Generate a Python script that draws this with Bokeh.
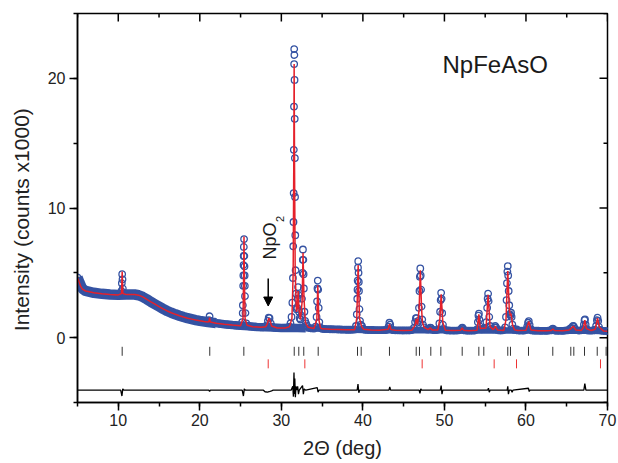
import math
from bokeh.plotting import figure
from bokeh.models import Range1d, SingleIntervalTicker, Label, Arrow, NormalHead
from bokeh.embed import file_html
from bokeh.resources import INLINE

# ---- data: 2-theta (deg), intensity (counts x1000) ----
observed = [
    (5.0, 4.65), (5.25, 4.25), (5.5, 3.88), (5.75, 3.7), (6.0, 3.6), (6.25, 3.56), (6.5, 3.52), (6.75, 3.49),
    (7.0, 3.46), (7.25, 3.44), (7.5, 3.42), (7.75, 3.4), (8.0, 3.38), (8.25, 3.37), (8.5, 3.35), (8.75, 3.34),
    (9.0, 3.33), (9.25, 3.32), (9.5, 3.31), (9.75, 3.3), (10.0, 3.3), (10.25, 3.31),
    (10.4, 3.6), (10.44, 4.2), (10.48, 4.9), (10.52, 4.5), (10.56, 3.8), (10.6, 3.4),
    (10.75, 3.32), (11.0, 3.32), (11.25, 3.33), (11.5, 3.33), (11.75, 3.34), (12.0, 3.33), (12.25, 3.31),
    (12.5, 3.27), (12.75, 3.22), (13.0, 3.14), (13.25, 3.05), (13.5, 2.96), (13.75, 2.86), (14.0, 2.76),
    (14.25, 2.67), (14.5, 2.58), (14.75, 2.49), (15.0, 2.4), (15.25, 2.31), (15.5, 2.22), (15.75, 2.14),
    (16.0, 2.06), (16.25, 1.99), (16.5, 1.92), (16.75, 1.86), (17.0, 1.8), (17.25, 1.74), (17.5, 1.69),
    (17.75, 1.64), (18.0, 1.59), (18.25, 1.54), (18.5, 1.5), (18.75, 1.46), (19.0, 1.43), (19.25, 1.39),
    (19.5, 1.36), (19.75, 1.33), (20.0, 1.3), (20.25, 1.27), (20.5, 1.24), (20.75, 1.22), (21.0, 1.2),
    (21.1, 1.35), (21.2, 1.65), (21.3, 1.3),
    (21.5, 1.16), (21.75, 1.14), (22.0, 1.12), (22.25, 1.1), (22.5, 1.08), (22.75, 1.06), (23.0, 1.04),
    (23.25, 1.02), (23.5, 1.0), (23.75, 0.98), (24.0, 0.97), (24.25, 0.95), (24.5, 0.94), (24.75, 0.93), (25.0, 0.92),
    (25.2, 1.2), (25.26, 1.9), (25.28, 2.5), (25.32, 4.0), (25.34, 4.8), (25.36, 5.6), (25.38, 6.3), (25.4, 7.0),
    (25.43, 7.6), (25.46, 6.3), (25.48, 5.5), (25.5, 4.8), (25.52, 4.0), (25.54, 3.2), (25.6, 1.9), (25.7, 1.1),
    (25.85, 0.9), (26.0, 0.88), (26.25, 0.87), (26.5, 0.85), (26.75, 0.84), (27.0, 0.82), (27.25, 0.81),
    (27.5, 0.8), (27.75, 0.8), (28.0, 0.81),
    (28.2, 0.95), (28.35, 1.3), (28.45, 1.55), (28.55, 1.5), (28.7, 1.1), (28.85, 0.85),
    (29.0, 0.78), (29.25, 0.76), (29.5, 0.75), (29.75, 0.75), (30.0, 0.74), (30.25, 0.74), (30.5, 0.74),
    (30.75, 0.77), (31.0, 0.85),
    (31.12, 1.1), (31.25, 1.6), (31.35, 2.7), (31.42, 4.6), (31.46, 7.05), (31.49, 8.92), (31.51, 11.15),
    (31.53, 14.49), (31.55, 17.82), (31.57, 21.1), (31.58, 22.26), (31.6, 21.8), (31.62, 19.88), (31.64, 16.88),
    (31.66, 13.85), (31.68, 10.85), (31.71, 7.9), (31.75, 5.2), (31.8, 3.4), (31.87, 2.2), (31.95, 2.3),
    (32.0, 3.0), (32.05, 3.9), (32.1, 3.3), (32.17, 2.0), (32.25, 1.5), (32.35, 1.4), (32.45, 1.7),
    (32.53, 3.0), (32.6, 5.0), (32.63, 6.0), (32.65, 6.8), (32.7, 6.0), (32.73, 4.9), (32.76, 3.8),
    (32.83, 2.0), (32.92, 1.3), (33.02, 1.1), (33.12, 0.95), (33.25, 0.82),
    (33.5, 0.74), (33.75, 0.71), (34.0, 0.7), (34.2, 0.85), (34.32, 1.6), (34.38, 2.8), (34.43, 3.8),
    (34.47, 4.4), (34.52, 3.7), (34.58, 2.3), (34.66, 1.2), (34.78, 0.8),
    (35.0, 0.68), (35.25, 0.67), (35.5, 0.66), (35.75, 0.66), (36.0, 0.65), (36.25, 0.65), (36.5, 0.64),
    (36.75, 0.64), (37.0, 0.63), (37.25, 0.63), (37.5, 0.62), (37.75, 0.62), (38.0, 0.61), (38.25, 0.61),
    (38.5, 0.61), (38.75, 0.61), (39.0, 0.63),
    (39.15, 0.9), (39.25, 1.8), (39.31, 3.0), (39.34, 3.7), (39.36, 4.4), (39.4, 5.4), (39.43, 5.9),
    (39.47, 5.0), (39.5, 4.3), (39.52, 3.6), (39.58, 2.2), (39.65, 1.3), (39.75, 1.0), (39.88, 0.9), (40.0, 0.7),
    (40.25, 0.62), (40.5, 0.6), (40.75, 0.6), (41.0, 0.59), (41.25, 0.59), (41.5, 0.58), (41.75, 0.58),
    (42.0, 0.58), (42.25, 0.58), (42.5, 0.58), (42.75, 0.59), (43.0, 0.62),
    (43.15, 0.85), (43.25, 1.15), (43.35, 1.0), (43.5, 0.65),
    (43.75, 0.58), (44.0, 0.57), (44.25, 0.57), (44.5, 0.57), (44.75, 0.56), (45.0, 0.56), (45.25, 0.56),
    (45.5, 0.56), (45.75, 0.57), (46.0, 0.58), (46.25, 0.75),
    (46.4, 1.2), (46.5, 1.5), (46.6, 1.5), (46.7, 1.15), (46.8, 1.3), (46.88, 2.3), (46.94, 3.6),
    (46.99, 4.7), (47.04, 5.34), (47.09, 4.8), (47.14, 3.7), (47.2, 2.4), (47.28, 1.4), (47.38, 1.0), (47.5, 0.8),
    (47.75, 0.65), (48.0, 0.63), (48.15, 0.7), (48.25, 0.78), (48.35, 0.76), (48.5, 0.62), (48.75, 0.58),
    (49.0, 0.58), (49.25, 0.62),
    (49.38, 1.1), (49.47, 2.0), (49.54, 2.9), (49.6, 3.46), (49.66, 3.0), (49.73, 1.9), (49.82, 1.0), (49.95, 0.65),
    (50.25, 0.57), (50.5, 0.56), (50.75, 0.55), (51.0, 0.55), (51.25, 0.55), (51.5, 0.55), (51.75, 0.56),
    (52.0, 0.6), (52.12, 0.72), (52.2, 0.77), (52.3, 0.65), (52.5, 0.56), (52.75, 0.55), (53.0, 0.54),
    (53.25, 0.54), (53.5, 0.54), (53.75, 0.55), (54.0, 0.64),
    (54.1, 1.2), (54.17, 1.7), (54.23, 1.85), (54.3, 1.4), (54.4, 0.85), (54.55, 0.65), (54.7, 0.68),
    (54.85, 0.72), (55.0, 0.75),
    (55.15, 1.2), (55.24, 2.3), (55.3, 3.0), (55.36, 3.39), (55.42, 2.8), (55.5, 1.6), (55.6, 0.9),
    (55.75, 0.67), (56.0, 0.64), (56.15, 0.8), (56.25, 0.9), (56.35, 0.78), (56.5, 0.6),
    (56.75, 0.56), (57.0, 0.56), (57.25, 0.58), (57.45, 0.8), (57.55, 1.6), (57.62, 2.9), (57.67, 4.2),
    (57.72, 5.1), (57.77, 5.52), (57.82, 4.8), (57.88, 3.6), (57.95, 2.5), (58.03, 1.8), (58.1, 1.7),
    (58.17, 1.92), (58.24, 1.6), (58.33, 1.0), (58.45, 0.7),
    (58.6, 0.6), (58.8, 0.62), (58.9, 0.63), (59.0, 0.56), (59.25, 0.55), (59.5, 0.55), (59.75, 0.55),
    (60.0, 0.6), (60.15, 0.85), (60.25, 1.15), (60.35, 1.28), (60.45, 1.0), (60.6, 0.65),
    (60.75, 0.56), (61.0, 0.54), (61.25, 0.54), (61.5, 0.54), (61.75, 0.53), (62.0, 0.53), (62.25, 0.53),
    (62.5, 0.53), (62.75, 0.54), (63.0, 0.56), (63.2, 0.64), (63.3, 0.69), (63.42, 0.6), (63.6, 0.55),
    (63.75, 0.54), (64.0, 0.53), (64.25, 0.53), (64.5, 0.53), (64.75, 0.54), (65.0, 0.56), (65.25, 0.6),
    (65.45, 0.72), (65.6, 0.75), (65.75, 0.88), (65.85, 0.9), (66.0, 0.7), (66.2, 0.58), (66.5, 0.55),
    (66.75, 0.56), (67.0, 0.65),
    (67.1, 1.0), (67.18, 1.35), (67.24, 1.41), (67.32, 1.0), (67.45, 0.65), (67.6, 0.56), (67.75, 0.55),
    (68.0, 0.55), (68.25, 0.56), (68.45, 0.62), (68.6, 0.9), (68.7, 1.35), (68.78, 1.54), (68.86, 1.3),
    (68.95, 0.85), (69.1, 0.6), (69.25, 0.55), (69.5, 0.53), (69.75, 0.52), (70.0, 0.5),
]

# refined background level (the centre of the noisy observed band), in three stretches
background_low = [
    (5.0, 4.65), (5.25, 4.25), (5.5, 3.88), (5.75, 3.7), (6.0, 3.6), (7.0, 3.46), (8.0, 3.38), (9.0, 3.33),
    (10.0, 3.3), (11.0, 3.32), (12.0, 3.33), (12.5, 3.27), (13.0, 3.14), (13.5, 2.96), (14.0, 2.76),
    (14.5, 2.58), (15.0, 2.4), (15.5, 2.22), (16.0, 2.06), (16.5, 1.92), (17.0, 1.8), (17.5, 1.69),
    (18.0, 1.59), (18.5, 1.5), (19.0, 1.43), (19.5, 1.36), (20.0, 1.3), (21.0, 1.2), (22.0, 1.12),
]
background_mid = [
    (22.0, 1.12), (23.0, 1.04), (24.0, 0.97), (25.0, 0.92), (26.0, 0.88), (27.0, 0.82), (28.0, 0.8),
    (29.0, 0.78), (30.0, 0.74), (31.0, 0.76), (32.0, 0.74), (33.0, 0.72),
]
background_high = [
    (33.0, 0.72), (34.0, 0.7), (35.0, 0.68), (36.0, 0.65), (37.0, 0.63), (38.0, 0.61), (39.0, 0.61),
    (40.0, 0.6), (42.0, 0.58), (44.0, 0.57), (46.0, 0.57), (48.0, 0.6), (50.0, 0.57), (52.0, 0.56),
    (54.0, 0.55), (56.0, 0.56), (58.0, 0.56), (60.0, 0.55), (62.0, 0.53), (64.0, 0.53), (66.0, 0.55),
    (68.0, 0.54), (70.0, 0.5),
]

calculated = [
    (5.0, 4.6), (5.2, 4.3), (5.4, 3.95), (5.6, 3.75), (6.0, 3.6), (7.0, 3.46), (8.0, 3.38), (9.0, 3.33),
    (10.0, 3.3), (10.4, 3.4), (10.48, 5.1), (10.56, 3.4), (11.0, 3.32), (12.0, 3.33), (12.5, 3.28),
    (13.0, 3.15), (13.5, 2.96), (14.0, 2.76), (14.5, 2.58), (15.0, 2.4), (15.5, 2.22), (16.0, 2.06),
    (16.5, 1.92), (17.0, 1.8), (17.5, 1.69), (18.0, 1.59), (18.5, 1.5), (19.0, 1.43), (19.5, 1.36),
    (20.0, 1.3), (20.5, 1.24), (21.0, 1.2), (21.12, 1.25), (21.2, 1.55), (21.28, 1.2), (22.0, 1.12),
    (23.0, 1.04), (24.0, 0.97), (25.0, 0.92), (25.3, 1.5), (25.38, 5.0), (25.42, 7.8), (25.46, 5.0),
    (25.55, 1.5), (25.8, 0.95), (26.5, 0.85), (27.5, 0.8), (28.1, 0.85), (28.3, 1.1), (28.45, 1.5),
    (28.6, 1.35), (28.8, 0.9), (29.5, 0.75), (30.5, 0.74), (31.0, 0.85), (31.3, 1.5), (31.45, 5.0),
    (31.52, 13.0), (31.57, 21.1), (31.62, 13.0), (31.7, 5.0), (31.85, 2.0), (31.98, 2.4), (32.06, 3.6),
    (32.15, 2.2), (32.35, 1.4), (32.55, 2.8), (32.66, 6.55), (32.78, 3.0), (32.95, 1.2), (33.05, 1.05),
    (33.3, 0.8), (34.0, 0.7), (34.35, 1.4), (34.47, 4.05), (34.6, 1.4), (34.8, 0.75), (35.0, 0.68),
    (36.0, 0.65), (37.0, 0.63), (38.0, 0.61), (39.0, 0.62), (39.25, 1.5), (39.42, 5.6), (39.58, 1.5),
    (39.85, 0.85), (40.1, 0.65), (41.0, 0.59), (42.0, 0.58), (43.1, 0.65), (43.25, 1.05), (43.45, 0.62),
    (44.0, 0.57), (45.0, 0.56), (46.0, 0.57), (46.4, 0.95), (46.55, 1.45), (46.7, 1.0), (46.9, 2.2),
    (47.04, 5.2), (47.2, 2.2), (47.3, 1.2), (47.5, 0.8), (48.0, 0.62), (48.27, 0.75), (48.5, 0.6),
    (49.2, 0.6), (49.45, 1.5), (49.6, 3.34), (49.8, 1.2), (50.1, 0.58), (51.0, 0.55), (52.0, 0.58),
    (52.18, 0.75), (52.35, 0.57), (53.0, 0.54), (54.0, 0.58), (54.22, 1.8), (54.4, 0.7), (55.1, 0.75),
    (55.36, 3.3), (55.6, 0.85), (56.0, 0.62), (56.25, 0.88), (56.5, 0.6), (57.3, 0.56), (57.55, 1.4),
    (57.77, 5.13), (57.95, 2.2), (58.08, 1.7), (58.17, 1.85), (58.35, 1.0), (58.6, 0.6), (59.0, 0.55),
    (60.0, 0.58), (60.35, 1.25), (60.6, 0.6), (61.5, 0.53), (62.5, 0.53), (63.1, 0.56), (63.3, 0.66),
    (63.5, 0.55), (64.5, 0.53), (65.3, 0.6), (65.5, 0.7), (65.8, 0.88), (66.1, 0.6), (66.8, 0.56),
    (67.05, 0.8), (67.22, 1.35), (67.4, 0.7), (68.0, 0.55), (68.5, 0.65), (68.78, 1.5), (69.0, 0.8),
    (69.5, 0.52), (70.0, 0.5),
]

difference = [
    (5.0, 0.0), (10.3, 0.0), (10.45, -0.45), (10.55, 0.1), (10.7, 0.0), (21.1, 0.0), (21.2, -0.1),
    (21.3, 0.0), (25.2, 0.0), (25.35, -0.45), (25.45, 0.1), (25.6, 0.0), (27.8, 0.0), (28.0, -0.12),
    (28.3, -0.15), (28.5, -0.12), (28.8, -0.05), (29.0, 0.0), (31.2, 0.0), (31.4, 0.3), (31.48, -0.5),
    (31.55, 1.36), (31.6, -0.3), (31.65, 0.9), (31.72, -0.55), (31.8, 0.3), (31.9, 0.0), (32.0, 0.3),
    (32.1, -0.3), (32.2, 0.0), (32.6, 0.35), (32.7, -0.3), (32.8, 0.1), (33.0, 0.0), (34.4, 0.2),
    (34.5, -0.15), (34.6, 0.0), (39.3, 0.0), (39.4, 0.47), (39.5, -0.2), (39.6, 0.0), (43.2, 0.0),
    (43.3, 0.25), (43.4, 0.0), (46.9, 0.0), (47.0, -0.25), (47.1, 0.1), (47.2, 0.0), (49.5, 0.0),
    (49.6, 0.35), (49.7, -0.3), (49.8, 0.0), (55.3, 0.0), (55.4, 0.15), (55.5, -0.15), (55.6, 0.0),
    (57.7, 0.0), (57.77, 0.3), (57.85, -0.3), (57.95, 0.0), (58.2, 0.0), (58.3, -0.15), (58.4, 0.0),
    (60.3, 0.15), (60.4, -0.1), (60.5, 0.0), (67.1, 0.0), (67.22, 0.5), (67.35, 0.0), (70.0, 0.0),
]

bragg_npfeaso = [10.48, 21.22, 25.40, 31.58, 32.14, 32.75, 34.52, 39.34, 39.79, 43.26, 46.54, 46.94,
                 48.33, 49.56, 52.18, 54.22, 54.83, 57.77, 58.10, 60.31, 63.29, 65.50, 65.87, 67.18,
                 68.74, 69.83]
bragg_npo2 = [28.39, 32.88, 47.27, 56.10, 58.84, 69.14]

x_major_ticks = [10, 20, 30, 40, 50, 60, 70]
x_minor_ticks = [5, 15, 25, 35, 45, 55, 65]
y_major_ticks = [0, 10, 20]
y_minor_ticks = [-5, 5, 15, 25]

# ---- style constants ----
X_LO, X_HI, Y_LO, Y_HI = 5, 70, -5, 25
DIFF_OFFSET = -4.05
ROW_MAIN = -1.05
ROW_NPO2 = -2.02
BLUE = "#3553a3"
RED = "#e5212b"
FONT = "Liberation Sans"
TXT = "#1a1a1a"
NBSP = "\u00a0"

p = figure(width=618, height=463, x_range=Range1d(X_LO, X_HI), y_range=Range1d(Y_LO, Y_HI),
           output_backend="svg", toolbar_location=None,
           min_border_left=77, min_border_right=11, min_border_top=13, min_border_bottom=61)
p.grid.visible = False
p.outline_line_color = "black"
p.outline_line_width = 1.5
p.background_fill_color = "white"
p.border_fill_color = "white"

p.xaxis.ticker = SingleIntervalTicker(interval=10, num_minor_ticks=2)
p.yaxis.ticker = SingleIntervalTicker(interval=10, num_minor_ticks=2)
for ax in (p.xaxis[0], p.yaxis[0]):
    ax.major_tick_in = 0
    ax.major_tick_out = 8
    ax.minor_tick_in = 0
    ax.minor_tick_out = 4
    ax.axis_line_width = 1.5
    ax.major_tick_line_width = 1.5
    ax.minor_tick_line_width = 1.5
    ax.axis_line_color = "black"
    ax.major_tick_line_color = "black"
    ax.minor_tick_line_color = "black"
    ax.major_label_text_font = FONT
    ax.major_label_text_font_size = "16px"
    ax.major_label_text_color = "#222222"
    ax.axis_label_text_font = FONT
    ax.axis_label_text_font_style = "normal"
    ax.axis_label_text_color = "#222222"

p.xaxis.axis_label = "2Θ (deg)"
p.xaxis.axis_label_text_font_size = "20px"
p.xaxis.major_label_standoff = 3
p.xaxis.axis_label_standoff = 8
p.yaxis.axis_label = "Intensity (counts x1000)" + NBSP * 4
p.yaxis.axis_label_text_font_size = "21px"
p.yaxis.major_label_standoff = 4
p.yaxis.axis_label_standoff = 12

# inward mirror ticks on the top and right edges (half of each dash is clipped by the frame)
p.scatter(x_major_ticks, [Y_HI] * len(x_major_ticks), marker="dash", size=16, angle=math.pi / 2,
          line_color="black", line_width=1.5)
p.scatter(x_minor_ticks, [Y_HI] * len(x_minor_ticks), marker="dash", size=8, angle=math.pi / 2,
          line_color="black", line_width=1.5)
p.scatter([X_HI] * len(y_major_ticks), y_major_ticks, marker="dash", size=16,
          line_color="black", line_width=1.5)
p.scatter([X_HI] * len(y_minor_ticks), y_minor_ticks, marker="dash", size=8,
          line_color="black", line_width=1.5)


def xs(pts):
    return [a for a, b in pts]


def ys(pts, shift=0.0):
    return [b + shift for a, b in pts]


# noisy observed band: wider at low angle where the counting noise is larger
p.line(xs(background_low), ys(background_low), line_color=BLUE, line_width=10.5)
p.line(xs(background_mid), ys(background_mid), line_color=BLUE, line_width=8.5)
p.line(xs(background_high), ys(background_high), line_color=BLUE, line_width=6.5)
p.scatter(xs(observed), ys(observed), marker="circle", size=6.5, fill_color=None,
          line_color=BLUE, line_width=1.3)
p.line(xs(calculated), ys(calculated), line_color=RED, line_width=1.5)
p.line(xs(difference), ys(difference, DIFF_OFFSET), line_color="black", line_width=1.3)

p.scatter(bragg_npfeaso, [ROW_MAIN] * len(bragg_npfeaso), marker="dash", size=9,
          angle=math.pi / 2, line_color="#333333", line_width=1)
p.scatter(bragg_npo2, [ROW_NPO2] * len(bragg_npo2), marker="dash", size=9,
          angle=math.pi / 2, line_color="#ee3333", line_width=1)

p.add_layout(Label(x=49.76, y=21.09, text="NpFeAsO", text_font=FONT, text_font_size="24px",
                   text_color=TXT, text_baseline="middle", text_align="left"))
p.add_layout(Label(x=28.61, y=6.03, text="NpO", angle=math.pi / 2, text_font=FONT,
                   text_font_size="18px", text_color=TXT, text_baseline="middle",
                   text_align="left"))
p.add_layout(Label(x=29.83, y=8.92, text="2", angle=math.pi / 2, text_font=FONT,
                   text_font_size="11px", text_color=TXT, text_baseline="middle",
                   text_align="left"))
p.add_layout(Arrow(end=NormalHead(size=9, fill_color="black", line_color="black"),
                   x_start=28.39, y_start=4.57, x_end=28.39, y_end=2.44,
                   line_color="black", line_width=1.5))

open("out.html", "w").write(file_html(p, INLINE))
